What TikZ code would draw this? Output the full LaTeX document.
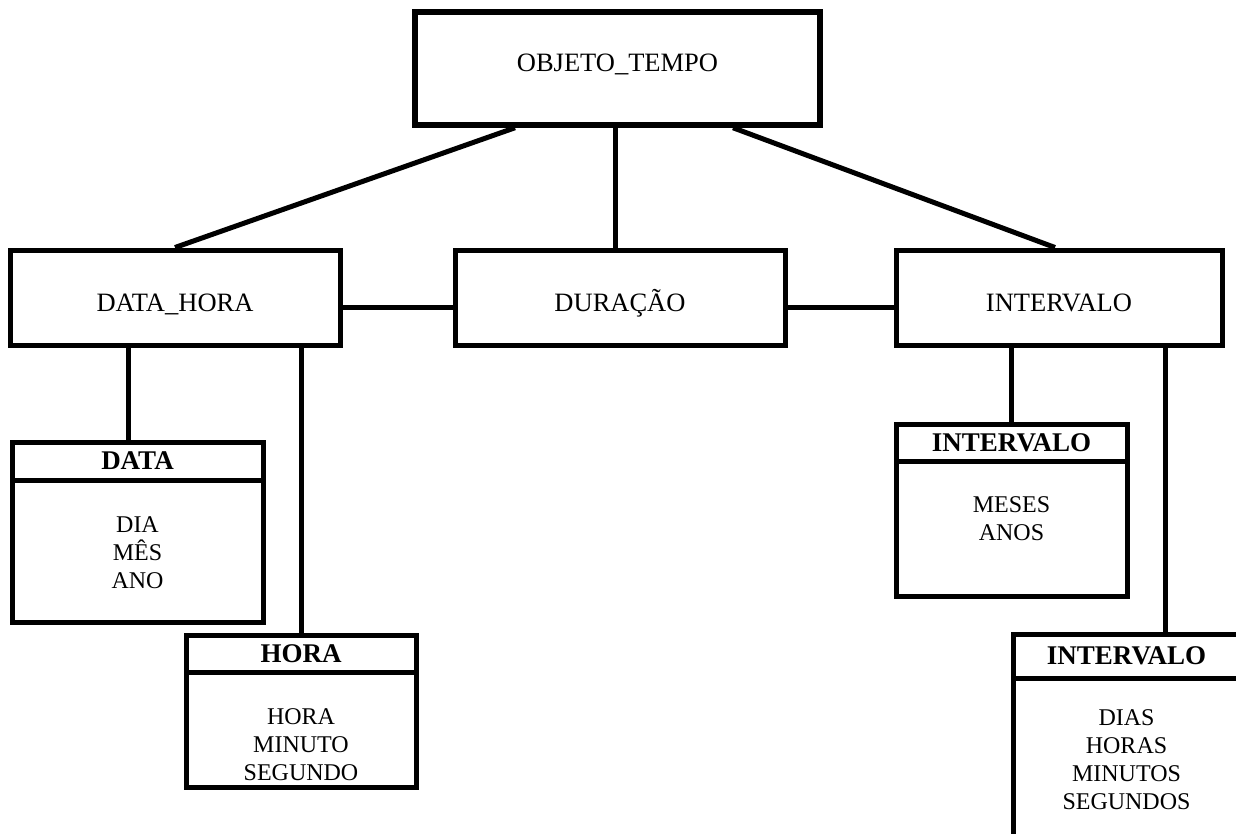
\documentclass[tikz,border=0pt]{standalone}
\usepackage{fontspec}
\setmainfont{Liberation Serif}
\usetikzlibrary{calc}
\begin{document}
\begin{tikzpicture}[x=1pt,y=-1pt,
  box/.style={draw, line width=5pt, rectangle, inner sep=0pt, font=\fontsize{26.5}{30}\selectfont},
  lowlbl/.style={text height=28pt, text depth=0pt},
  highlbl/.style={text height=17.5pt, text depth=11pt},
  hdr/.style={draw, line width=5pt, rectangle, inner sep=0pt, font=\bfseries\fontsize{27}{30}\selectfont},
  body/.style={inner sep=0pt, align=center, font=\fontsize{24}{28}\selectfont},
  conn/.style={line width=5pt}]
\useasboundingbox (0,0) rectangle (1236,833);
\clip (0,0) rectangle (1236,833);
% main boxes
\node[box, highlbl, line width=5.5pt, minimum width=405pt, minimum height=113pt] (obj) at (617.5,68.5) {OBJETO\_TEMPO};
\node[box, lowlbl, minimum width=330pt, minimum height=95pt] (dh) at (175,297.5) {DATA\_HORA};
\node[box, lowlbl, minimum width=330pt, minimum height=95pt] (dur) at (620,297.5) {DURAÇÃO};
\node[box, lowlbl, minimum width=326pt, minimum height=95pt] (int) at (1059,297.5) {INTERVALO};
% DATA
\node[box, minimum width=251pt, minimum height=180pt] (data) at (137.5,532) {};
\node[hdr, minimum width=251pt, minimum height=38pt, anchor=north] (dataH) at (data.north) {DATA};
\node[body] (dataB) at (137.5,552.5) {DIA\\MÊS\\ANO};
% HORA
\node[box, minimum width=230pt, minimum height=152pt] (hora) at (301,711) {};
\node[hdr, minimum width=230pt, minimum height=37pt, anchor=north] (horaH) at (hora.north) {HORA};
\node[body] (horaB) at (301,744.5) {HORA\\MINUTO\\SEGUNDO};
% INTERVALO 1
\node[box, minimum width=231pt, minimum height=172pt] (int1) at (1011.5,510) {};
\node[hdr, minimum width=231pt, minimum height=37pt, anchor=north] (int1H) at (int1.north) {INTERVALO};
\node[body] (int1B) at (1011.5,519) {MESES\\ANOS};
% INTERVALO 2
\node[box, minimum width=227pt, minimum height=236pt] (int2) at (1126.5,752) {};
\node[hdr, minimum width=227pt, minimum height=44pt, anchor=north] (int2H) at (int2.north) {INTERVALO};
\node[body] (int2B) at (1126.5,760) {DIAS\\HORAS\\MINUTOS\\SEGUNDOS};
% connectors
\draw[conn] ($(obj.south)+(-102.5,0)$) -- (dh.north);
\draw[conn] ($(obj.south)+(-2.5,0)$) -- ($(dur.north)+(-5,0)$);
\draw[conn] ($(obj.south)+(115.5,0)$) -- ($(int.north)+(-4,0)$);
\draw[conn] ($(dh.east)+(0,10)$) -- ($(dur.west)+(0,10)$);
\draw[conn] ($(dur.east)+(0,10)$) -- ($(int.west)+(0,10)$);
\draw[conn] ($(data.north)+(-9.5,0)$) coordinate (c1) -- (c1 |- dh.south);
\draw[conn] (hora.north) -- (hora.north |- dh.south);
\draw[conn] (int1.north) -- (int1.north |- int.south);
\draw[conn] ($(int2.north)+(38.5,0)$) coordinate (c2) -- (c2 |- int.south);
\end{tikzpicture}
\end{document}
